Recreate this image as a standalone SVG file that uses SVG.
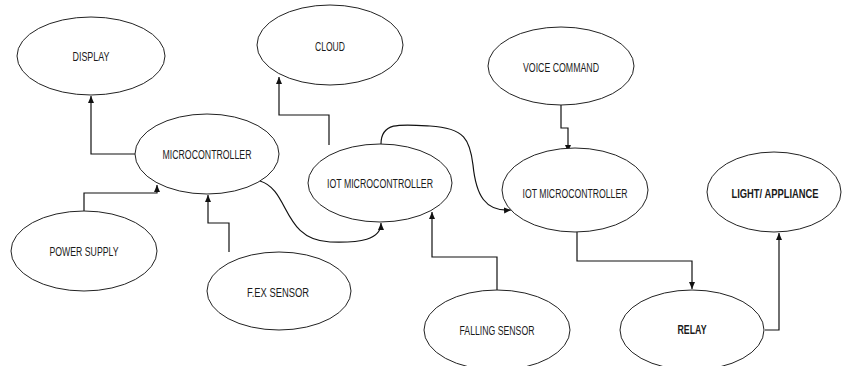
<svg xmlns="http://www.w3.org/2000/svg" width="842" height="366" viewBox="0 0 842 366">
<style>
.n ellipse{fill:#fff;stroke:#222;stroke-width:1}
.n text{font-family:"Liberation Sans",Arial,sans-serif;font-size:12.5px;fill:#1a1a1a;text-anchor:middle}
.n text.b{font-weight:bold}
.c path{fill:none;stroke:#111;stroke-width:1.2}
</style>
<defs>
<marker id="ah" markerUnits="userSpaceOnUse" markerWidth="8" markerHeight="7" refX="7" refY="3" orient="auto">
<path d="M0,0 L7,3 L0,6 z" fill="#111"/>
</marker>
</defs>
<rect width="842" height="366" fill="#fff"/>
<g class="c">
<path d="M135,154 H91 V96" marker-end="url(#ah)"/>
<path d="M329,145 V115 H279 V77" marker-end="url(#ah)"/>
<path d="M84,211 V193 H157 V185" marker-end="url(#ah)"/>
<path d="M229,252 V223 H208 V195" marker-end="url(#ah)"/>
<path d="M260,181 C290,190 282,240 330,242 C360,243 381,240 381,223" marker-end="url(#ah)"/>
<path d="M381,144 C381,122 400,124 430,126 C465,128 470,140 473,165 C476,195 485,212 511,210" marker-end="url(#ah)"/>
<path d="M561,105 V128 H568 V152" marker-end="url(#ah)"/>
<path d="M497,290 V257 H432 V212" marker-end="url(#ah)"/>
<path d="M577,232 V261 H692 V289" marker-end="url(#ah)"/>
<path d="M765,330 H779 V233" marker-end="url(#ah)"/>
</g>
<g class="n" id="display"><ellipse cx="91" cy="56" rx="74" ry="39"/><text x="91" y="61" textLength="37" lengthAdjust="spacingAndGlyphs">DISPLAY</text></g>
<g class="n" id="microcontroller"><ellipse cx="207" cy="154" rx="72" ry="40"/><text x="207" y="159" textLength="89" lengthAdjust="spacingAndGlyphs">MICROCONTROLLER</text></g>
<g class="n" id="cloud"><ellipse cx="330" cy="45" rx="73" ry="40"/><text x="330" y="51" textLength="30" lengthAdjust="spacingAndGlyphs">CLOUD</text></g>
<g class="n" id="iot1"><ellipse cx="380" cy="183" rx="72" ry="39"/><text x="380" y="188" textLength="106" lengthAdjust="spacingAndGlyphs">IOT MICROCONTROLLER</text></g>
<g class="n" id="voice"><ellipse cx="561" cy="66" rx="73" ry="39"/><text x="561" y="72" textLength="76" lengthAdjust="spacingAndGlyphs">VOICE COMMAND</text></g>
<g class="n" id="iot2"><ellipse cx="575" cy="190" rx="73" ry="42"/><text x="575" y="198" textLength="105" lengthAdjust="spacingAndGlyphs">IOT MICROCONTROLLER</text></g>
<g class="n" id="light"><ellipse cx="774" cy="192" rx="67" ry="40"/><text class="b" x="775" y="198" textLength="87" lengthAdjust="spacingAndGlyphs">LIGHT/ APPLIANCE</text></g>
<g class="n" id="power"><ellipse cx="84" cy="251" rx="73" ry="40"/><text x="84" y="256" textLength="69" lengthAdjust="spacingAndGlyphs">POWER SUPPLY</text></g>
<g class="n" id="flex"><ellipse cx="279" cy="291" rx="72" ry="39"/><text x="278" y="297" textLength="62" lengthAdjust="spacingAndGlyphs">F.EX SENSOR</text></g>
<g class="n" id="falling"><ellipse cx="497" cy="330" rx="73" ry="40"/><text x="497" y="335" textLength="75" lengthAdjust="spacingAndGlyphs">FALLING SENSOR</text></g>
<g class="n" id="relay"><ellipse cx="692" cy="330" rx="72" ry="40"/><text class="b" x="692" y="334" textLength="29" lengthAdjust="spacingAndGlyphs">RELAY</text></g>
</svg>
